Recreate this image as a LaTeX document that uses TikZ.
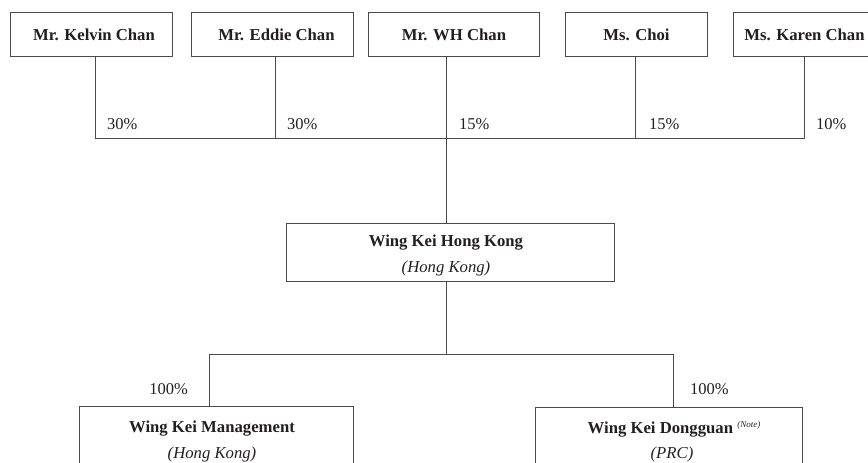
\documentclass[tikz,border=0pt]{standalone}
\usepackage{fontspec}
\setmainfont{Liberation Serif}
\definecolor{linec}{HTML}{4A4A4A}
\definecolor{txt}{HTML}{231F20}
\begin{document}
\begin{tikzpicture}[x=1pt,y=-1pt,
  box/.style={draw=linec, line width=0.9pt, inner sep=0pt, anchor=north west, text=txt,
    font=\fontsize{16.7}{25}\selectfont\bfseries, align=center},
  lbl/.style={inner sep=0pt, text=txt, font=\fontsize{16.7}{25}\selectfont},
  pct/.style={inner sep=0pt, text=txt, font=\fontsize{16.5}{20}\selectfont},
  conn/.style={draw=linec, line width=0.9pt}]
\clip (0,0) rectangle (868,463);
% shareholders
\node[box, minimum width=162pt, minimum height=44pt] (kelvin) at (10,12) {\hspace{5pt}Mr. Kelvin Chan};
\node[box, minimum width=162pt, minimum height=44pt] (eddie) at (191,12) {\hspace{8pt}Mr. Eddie Chan};
\node[box, minimum width=171pt, minimum height=44pt] (wh) at (368,12) {Mr. WH Chan};
\node[box, minimum width=142pt, minimum height=44pt] (choi) at (565,12) {Ms. Choi};
\node[box, minimum width=142pt, minimum height=44pt] (karen) at (733,12) {Ms. Karen Chan};
% junctions
\coordinate (j1) at (95,138);
\coordinate (j2) at (275,138);
\coordinate (j3) at (446,138);
\coordinate (j4) at (635,138);
\coordinate (j5) at (804,138);
\draw[conn] (kelvin.south -| j1) -- (j1) -- (j5) -- (karen.south -| j5);
\draw[conn] (eddie.south -| j2) -- (j2);
\draw[conn] (choi.south -| j4) -- (j4);
% Wing Kei Hong Kong
\node[box, minimum width=328pt, minimum height=58pt] (mid) at (286,223) {};
\node[lbl, font=\fontsize{16.7}{25}\selectfont\bfseries] (midt) at (446,243) {Wing Kei Hong Kong};
\node[lbl, font=\fontsize{16.7}{25}\selectfont\itshape] (mids) at (446,268) {(Hong Kong)};
\draw[conn] (wh.south -| j3) -- (mid.north -| j3);
% percentages
\node[pct, anchor=west] (p1) at (107,124) {30\%};
\node[pct, anchor=west] (p2) at (287,124) {30\%};
\node[pct, anchor=west] (p3) at (459,124) {15\%};
\node[pct, anchor=west] (p4) at (649,124) {15\%};
\node[pct, anchor=west] (p5) at (816,124) {10\%};
% subsidiaries
\node[box, minimum width=274pt, minimum height=80pt] (wkm) at (79,406) {};
\node[box, minimum width=267pt, minimum height=80pt] (wkd) at (535,407) {};
\coordinate (k1) at (446,354);
\coordinate (k2) at (209,354);
\coordinate (k3) at (673,354);
\draw[conn] (mid.south -| k1) -- (k1);
\draw[conn] (wkm.north -| k2) -- (k2) -- (k3) -- (wkd.north -| k3);
\node[pct, anchor=east] (p6) at (188,389) {100\%};
\node[pct, anchor=west] (p7) at (690,389) {100\%};
\node[lbl, font=\fontsize{16.7}{25}\selectfont\bfseries] (wkmt) at (212,429) {Wing Kei Management};
\node[lbl, font=\fontsize{16.7}{25}\selectfont\itshape] (wkms) at (212,454) {(Hong Kong)};
\node[lbl, font=\fontsize{16.7}{25}\selectfont\bfseries] (wkdt) at (674,429) {Wing Kei Dongguan \raisebox{6pt}{\fontsize{9}{9}\selectfont\mdseries\itshape (Note)}};
\node[lbl, font=\fontsize{16.7}{25}\selectfont\itshape] (wkds) at (672,454) {(PRC)};
\end{tikzpicture}
\end{document}
